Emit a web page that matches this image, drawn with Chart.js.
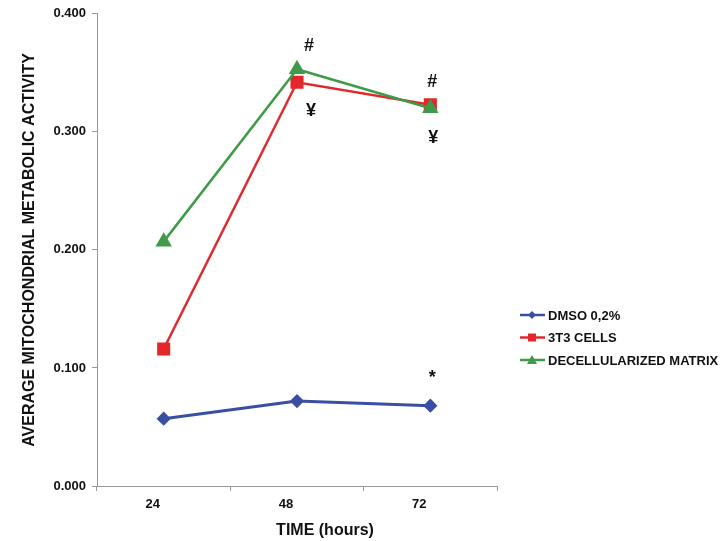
<!DOCTYPE html>
<html>
<head>
<meta charset="utf-8">
<script src="https://cdn.jsdelivr.net/npm/chart.js@4/dist/chart.umd.min.js"></script>
<style>
  body { margin: 0; background: #fff; }
  #wrap { width: 728px; height: 541px; }
</style>
</head>
<body>
<div id="wrap"><canvas id="lineChart"></canvas></div>
<script>
var hours = ["24", "48", "72"];
var dmso = [0.057, 0.072, 0.068];
var cells3t3 = [0.116, 0.342, 0.323];
var matrix = [0.207, 0.353, 0.320];
var seriesNames = ["DMSO 0,2%", "3T3 CELLS", "DECELLULARIZED MATRIX"];

// significance marks: category index, value position
var marks = [
    { text: "#", idx: 1, value: 0.373, dx: 12 },
    { text: "¥", idx: 1, value: 0.318, dx: 14 },
    { text: "#", idx: 2, value: 0.342, dx: 2 },
    { text: "¥", idx: 2, value: 0.295, dx: 3 },
    { text: "*", idx: 2, value: 0.0915, dx: 2 }
];

var FONT = "Arial, 'Liberation Sans', sans-serif";

Chart.register({
    id: 'extras',
    afterDraw: function (chart) {
        var ctx = chart.ctx;
        var xs = chart.scales.x, ys = chart.scales.y;
        ctx.save();
        // marks
        ctx.fillStyle = "#111";
        ctx.font = "bold 18px " + FONT;
        ctx.textAlign = "center";
        ctx.textBaseline = "middle";
        marks.forEach(function (m) {
            ctx.fillText(m.text, xs.getPixelForValue(m.idx) + m.dx, ys.getPixelForValue(m.value));
        });
        // x title
        ctx.font = "bold 16px " + FONT;
        ctx.fillText("TIME (hours)", 325, 531);
        // legend
        ctx.font = "bold 13px " + FONT;
        ctx.textAlign = "left";
        chart.data.datasets.forEach(function (ds, i) {
            var y = 315 + i * 22.5;
            ctx.strokeStyle = ds.borderColor;
            ctx.lineWidth = 2.5;
            ctx.beginPath();
            ctx.moveTo(520, y);
            ctx.lineTo(545, y);
            ctx.stroke();
            ctx.fillStyle = ds.backgroundColor;
            var r = 4;
            ctx.beginPath();
            if (ds.pointStyle === 'rectRot') {
                ctx.moveTo(532, y - r); ctx.lineTo(532 + r, y); ctx.lineTo(532, y + r); ctx.lineTo(532 - r, y);
            } else if (ds.pointStyle === 'rect') {
                ctx.rect(532 - r, y - r, 2 * r, 2 * r);
            } else {
                ctx.moveTo(532, y - r - 1); ctx.lineTo(532 + r + 1, y + r); ctx.lineTo(532 - r - 1, y + r);
            }
            ctx.closePath();
            ctx.fill();
            ctx.fillStyle = "#111";
            ctx.fillText(ds.label, 548, y + 1);
        });
        ctx.restore();
    }
});

var ctxL = document.getElementById("lineChart").getContext('2d');
var myChart = new Chart(ctxL, {
    type: 'line',
    data: {
        labels: hours,
        datasets: [{
            label: seriesNames[0],
            data: dmso,
            borderColor: "#3a4ea2",
            backgroundColor: "#3a4ea2",
            pointStyle: 'rectRot',
            pointRadius: 5,
            borderWidth: 3
        }, {
            label: seriesNames[1],
            data: cells3t3,
            borderColor: "#e2282b",
            backgroundColor: "#e2282b",
            pointStyle: 'rect',
            pointRadius: 7.5,
            borderWidth: 2.5
        }, {
            label: seriesNames[2],
            data: matrix,
            borderColor: "#3f9a4a",
            backgroundColor: "#3f9a4a",
            pointStyle: 'triangle',
            pointRadius: 7,
            borderWidth: 2.5,
            order: -1
        }]
    },
    options: {
        responsive: true,
        maintainAspectRatio: false,
        animation: false,
        layout: { padding: { top: 13, right: 231, left: 0, bottom: 0 } },
        plugins: {
            legend: { display: false },
            tooltip: { enabled: false }
        },
        scales: {
            x: {
                offset: true,
                afterFit: function (scale) { scale.height = 55; },
                grid: { offset: true, drawOnChartArea: false, tickLength: 5, color: "#999" },
                border: { color: "#999" },
                ticks: { color: "#111", font: { family: FONT, size: 13, weight: 'bold' }, padding: 6, labelOffset: -11 }
            },
            y: {
                min: 0,
                max: 0.4,
                afterFit: function (scale) { scale.width = 97; },
                grid: { drawOnChartArea: false, tickLength: 5, color: "#999" },
                border: { color: "#999" },
                ticks: {
                    stepSize: 0.1,
                    color: "#111",
                    font: { family: FONT, size: 13, weight: 'bold' },
                    padding: 6,
                    callback: function (v) { return v.toFixed(3); }
                },
                title: {
                    display: true,
                    text: "AVERAGE MITOCHONDRIAL METABOLIC ACTIVITY",
                    color: "#111",
                    font: { family: FONT, size: 16, weight: 'bold' },
                    padding: { top: 20, bottom: 0 }
                }
            }
        }
    }
});
</script>
</body>
</html>
